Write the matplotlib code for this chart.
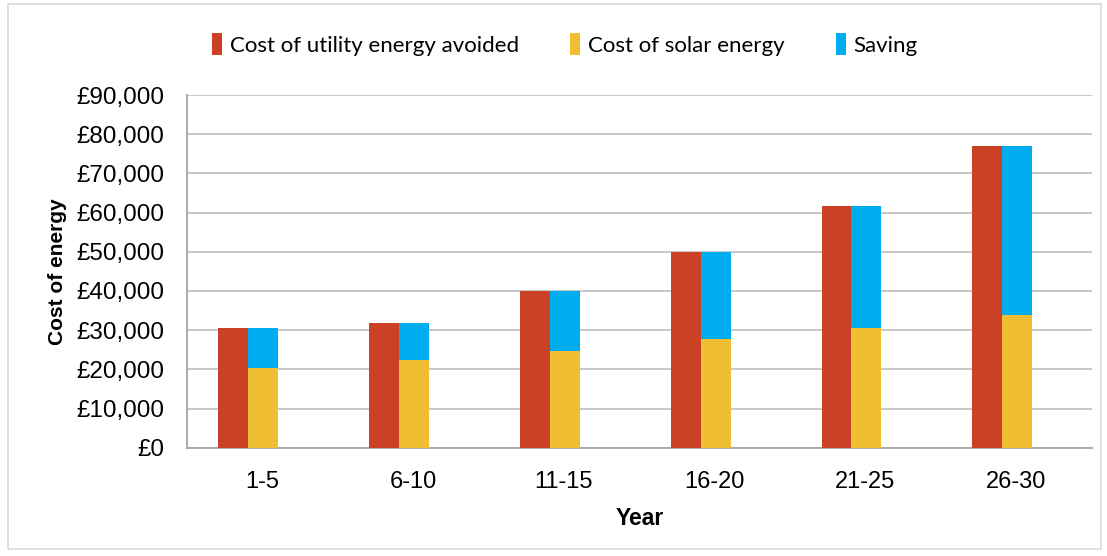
import numpy as np
import matplotlib
matplotlib.use('Agg')
import matplotlib.pyplot as plt
from matplotlib.patches import Rectangle
from matplotlib.ticker import FuncFormatter

# data
years = ['1-5', '6-10', '11-15', '16-20', '21-25', '26-30']
utility_avoided = [30500, 31900, 40100, 49900, 61700, 77100]
solar_cost = [20300, 22400, 24800, 27700, 30500, 33900]
saving = [u - s for u, s in zip(utility_avoided, solar_cost)]

red = '#CB4125'
yellow = '#F0BE32'
blue = '#00AEEF'

plt.rcParams['font.family'] = ['Liberation Sans', 'DejaVu Sans']

fig = plt.figure(figsize=(11.07, 5.56), dpi=100)
fig.patches.append(Rectangle((0.007, 0.012), 0.988, 0.98, transform=fig.transFigure,
                             fill=False, edgecolor='#D9D9D9', lw=1.2))
ax = fig.add_axes([0.1687, 0.1948, 0.8175, 0.6343])

x = np.arange(len(years))
w = 0.199
ax.bar(x - 0.192, utility_avoided, width=w, color=red, label='Cost of utility energy avoided', zorder=3)
ax.bar(x + 0.006, solar_cost, width=w, color=yellow, label='Cost of solar energy', zorder=3)
ax.bar(x + 0.006, saving, width=w, bottom=solar_cost, color=blue, label='Saving', zorder=3)

ax.set_xlim(-0.5, len(years) - 0.5)
ax.set_ylim(0, 90000)
ax.set_yticks(np.arange(0, 90001, 10000))
ax.yaxis.set_major_formatter(FuncFormatter(lambda v, p: '£{:,.0f}'.format(v)))
ax.set_xticks(x)
ax.set_xticklabels(years)
ax.tick_params(axis='both', length=0, labelsize=17.5, colors='black')
ax.tick_params(axis='x', labelsize=17, pad=17)
ax.tick_params(axis='y', pad=16)

ax.grid(axis='y', color='#BFBFBF', lw=1.2, zorder=0)
for s in ['top', 'right']:
    ax.spines[s].set_visible(False)
for s in ['left', 'bottom']:
    ax.spines[s].set_color('#A6A6A6')
    ax.spines[s].set_linewidth(1.3)

ax.set_xlabel('Year', fontsize=16.5, fontweight='bold', labelpad=10)
ax.set_ylabel('Cost of energy', fontsize=15, fontweight='bold', labelpad=7)

leg = ax.legend(loc='lower center', bbox_to_anchor=(0.418, 1.055), ncol=3, frameon=False,
                prop={'family': 'Lato', 'size': 16}, handlelength=0.45, handleheight=1.1,
                handletextpad=0.35, columnspacing=2.3)

plt.savefig('out.png', dpi=100)
